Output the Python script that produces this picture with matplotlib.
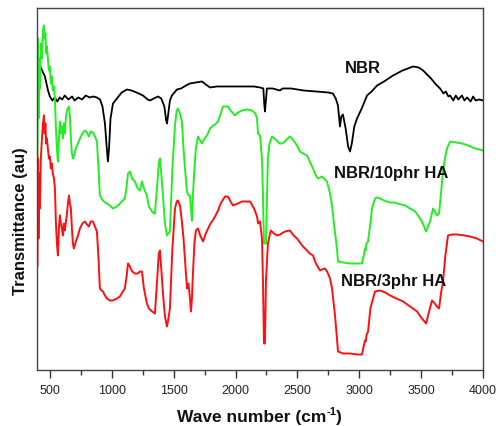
import matplotlib
matplotlib.use("Agg")
import matplotlib.pyplot as plt
from matplotlib.ticker import MultipleLocator

plt.rcParams['font.family'] = ['Liberation Sans', 'DejaVu Sans']

# ---- data (wavenumber cm^-1, transmittance in arbitrary units) ----
nbr_wn = [400, 405, 430, 460, 485, 500, 520, 540, 560, 580, 600, 620, 650, 680, 700, 730, 760,
          790, 820, 850, 880, 905, 925, 945, 960, 969, 978, 990, 1010, 1042, 1080, 1123, 1160,
          1200, 1252, 1290, 1309, 1340, 1374, 1400, 1425, 1440, 1446, 1452, 1470, 1486, 1527,
          1560, 1600, 1632, 1680, 1729, 1760, 1794, 1850, 1955, 2050, 2150, 2198, 2225, 2232,
          2238, 2245, 2254, 2300, 2330, 2359, 2380, 2450, 2550, 2650, 2750, 2787, 2810, 2828,
          2844, 2855, 2868, 2890, 2910, 2925, 2940, 2960, 2982, 3020, 3063, 3100, 3144, 3200,
          3273, 3350, 3435, 3480, 3516, 3580, 3620, 3653, 3680, 3700, 3720, 3734, 3760, 3780,
          3800, 3830, 3850, 3871, 3900, 3920, 3940, 3970, 4000]
nbr_t = [290, 310, 302, 294, 280, 274, 270, 273, 269, 273, 271, 275, 271, 274, 270, 273, 271,
         275, 273, 274, 273, 271, 264, 247, 222, 209, 222, 252, 267, 272, 278, 281, 280,
         278, 275, 271, 270, 272, 274, 272, 264, 250, 247, 252, 270, 275, 281,
         282, 285, 287, 288, 289, 286, 283, 284, 284, 284, 284, 283, 282, 267,
         259, 269, 282, 282, 281, 280, 282, 282, 280, 279, 278, 277, 272, 265,
         244, 254, 256, 242, 224, 219, 227, 244, 252, 262, 275, 279, 285, 289,
         295, 300, 304, 303, 300, 292, 286, 282, 277, 279, 274, 275, 270, 275,
         271, 275, 270, 273, 269, 274, 270, 271, 270]

ha10_wn = [400, 404, 408, 413, 420, 427, 436, 444, 452, 458, 464, 470, 476, 484, 492, 500, 508,
           516, 524, 533, 541, 549, 557, 565, 573, 581, 589, 597, 605, 613, 621, 630, 638, 646,
           654, 662, 670, 678, 686, 694, 710, 727, 743, 763, 783, 800, 815, 830, 848, 864, 880,
           893, 904, 918, 929, 945, 961, 985, 1009, 1042, 1066, 1090, 1106, 1120, 1131, 1147,
           1165, 1187, 1210, 1228, 1244, 1260, 1284, 1300, 1325, 1340, 1349, 1365, 1380, 1389,
           1400, 1414, 1430, 1446, 1458, 1470, 1490, 1511, 1525, 1535, 1551, 1567, 1580, 1592,
           1608, 1620, 1632, 1640, 1648, 1652, 1656, 1668, 1680, 1697, 1715, 1729, 1750, 1770,
           1794, 1810, 1835, 1859, 1880, 1899, 1920, 1939, 1960, 1996, 2020, 2052, 2090, 2133,
           2160, 2174, 2182, 2198, 2214, 2222, 2230, 2246, 2254, 2262, 2275, 2295, 2315, 2335,
           2355, 2375, 2400, 2420, 2440, 2456, 2475, 2497, 2521, 2545, 2578, 2600, 2626, 2650,
           2667, 2683, 2699, 2715, 2739, 2764, 2780, 2800, 2820, 2828, 2870, 2925, 2982, 3022,
           3035, 3046, 3052, 3058, 3071, 3090, 3103, 3127, 3144, 3168, 3200, 3225, 3249, 3290,
           3306, 3340, 3370, 3410, 3451, 3480, 3507, 3530, 3540, 3556, 3572, 3596, 3610, 3628,
           3645, 3660, 3677, 3695, 3709, 3734, 3780, 3831, 3880, 3936, 3970, 4000]
ha10_t = [195, 332, 252, 312, 282, 327, 312, 340, 345, 332, 337, 317, 324, 312, 300, 304, 287,
          294, 280, 284, 272, 242, 222, 209, 232, 249, 237, 244, 232, 247, 237, 254, 260, 262,
          264, 254, 232, 217, 212, 214, 222, 227, 232, 237, 240, 238, 234, 239, 238, 234, 229,
          202, 175, 172, 170, 168, 167, 165, 162, 164, 167, 170, 172, 184, 197, 199,
          192, 189, 182, 180, 189, 182, 175, 164, 159, 157, 157, 182, 207, 212,
          197, 175, 147, 135, 137, 139, 202, 245, 260, 262, 257, 249, 222, 202,
          179, 175, 175, 162, 150, 157, 175, 202, 222, 234, 230, 227, 232, 235,
          242, 244, 246, 249, 257, 264, 264, 264, 260, 255, 258, 260, 261, 260,
          257, 252, 237, 235, 212, 175, 127, 127, 172, 212, 227, 234, 232, 230,
          227, 227, 229, 232, 234, 232, 229, 225, 219, 217, 215, 209, 202, 195,
          192, 193, 194, 192, 189, 177, 165, 142, 122, 109, 108, 107, 107, 107,
          114, 122, 120, 127, 129, 147, 162, 172, 173, 172, 170, 169, 168, 168,
          167, 166, 165, 162, 159, 154, 149, 142, 139, 144, 149, 162, 159, 155,
          157, 177, 199, 214, 222, 229, 228, 227, 225, 222, 221, 220]

ha3_wn = [400, 404, 408, 413, 419, 427, 436, 444, 452, 458, 464, 470, 476, 484, 492, 500, 508,
          516, 524, 533, 541, 549, 557, 565, 573, 581, 589, 597, 605, 613, 621, 630, 638, 646,
          654, 662, 670, 678, 686, 694, 710, 727, 743, 763, 783, 800, 815, 830, 848, 864, 880,
          893, 904, 918, 929, 945, 961, 985, 1009, 1042, 1066, 1090, 1106, 1120, 1131, 1147,
          1165, 1187, 1210, 1228, 1244, 1260, 1284, 1300, 1325, 1349, 1365, 1380, 1389, 1400,
          1414, 1430, 1446, 1458, 1470, 1490, 1511, 1525, 1535, 1551, 1567, 1580, 1592, 1608,
          1620, 1632, 1640, 1648, 1656, 1668, 1680, 1697, 1715, 1737, 1760, 1794, 1810, 1835,
          1859, 1880, 1915, 1939, 1960, 1980, 2020, 2052, 2090, 2117, 2150, 2174, 2182, 2198,
          2214, 2222, 2230, 2238, 2246, 2262, 2285, 2310, 2335, 2360, 2400, 2440, 2470, 2497,
          2521, 2545, 2578, 2600, 2626, 2650, 2683, 2699, 2723, 2740, 2764, 2780, 2804, 2820,
          2828, 2870, 2925, 2982, 3022, 3035, 3046, 3052, 3058, 3071, 3090, 3127, 3168, 3210,
          3249, 3300, 3354, 3410, 3467, 3507, 3540, 3560, 3588, 3610, 3628, 3645, 3660, 3677,
          3695, 3717, 3750, 3790, 3850, 3895, 3950, 4000]
ha3_t = [105, 212, 132, 197, 162, 212, 232, 247, 255, 237, 247, 227, 232, 222, 212, 214, 202,
         207, 197, 192, 182, 147, 127, 115, 142, 155, 147, 142, 135, 147, 140, 149, 157, 167,
         175, 167, 162, 142, 127, 122, 129, 135, 142, 147, 149, 146, 144, 149, 149, 144, 139,
         112, 82, 80, 79, 75, 72, 70, 70, 72, 74, 79, 82, 94, 107, 104,
         99, 97, 97, 99, 99, 82, 67, 62, 59, 57, 87, 117, 120, 102,
         77, 54, 44, 52, 62, 122, 162, 169, 170, 165, 149, 132, 110, 82,
         87, 72, 59, 72, 97, 127, 140, 142, 135, 129, 137, 146, 149, 154,
         160, 167, 174, 174, 169, 165, 167, 169, 169, 169, 162, 154, 147, 149,
         132, 89, 27, 27, 89, 127, 140, 137, 135, 136, 139, 140, 135, 132,
         128, 124, 120, 117, 115, 107, 100, 101, 102, 99, 92, 82, 55, 32,
         19, 17, 17, 16, 16, 24, 30, 29, 35, 39, 62, 79, 80, 78,
         75, 72, 69, 64, 59, 52, 47, 57, 70, 67, 64, 62, 77, 89,
         114, 135, 136, 136, 135, 134, 132, 129]

x_ticks = [500, 1000, 1500, 2000, 2500, 3000, 3500, 4000]
labels = ["NBR", "NBR/10phr HA", "NBR/3phr HA"]
label_pos = [(3030, 303), (3257, 198), (3281, 90)]

# ---- figure ----
fig = plt.figure(figsize=(4.98, 4.27), dpi=100)
ax = fig.add_axes([0.0753, 0.130, 0.8946, 0.8478])

ax.plot(nbr_wn, nbr_t, color='black', lw=1.3)
ax.plot(ha10_wn, ha10_t, color='#22ee22', lw=1.4)
ax.plot(ha3_wn, ha3_t, color='#ff1010', lw=1.4)

for txt, (xx, yy) in zip(labels, label_pos):
    ax.text(xx, yy, txt, ha='center', va='center', fontsize=12, fontweight='bold', color='#111111')

ax.set_xlim(400, 4000)
ax.set_ylim(0, 362)
ax.set_xticks(x_ticks)
ax.set_xticklabels([str(v) for v in x_ticks])
ax.xaxis.set_minor_locator(MultipleLocator(250))
ax.set_yticks([])
ax.tick_params(axis='x', which='major', direction='out', length=6, width=1, pad=3.5,
               labelsize=9, colors='#333333', labelcolor='#222222', top=False)
ax.tick_params(axis='x', which='minor', direction='out', length=3.5, width=1, colors='#333333', top=False)
for s in ax.spines.values():
    s.set_color('#444444')
    s.set_linewidth(1.0)

# x label assembled from pieces: "Wave number (cm" + superscript "-1" + ")"
renderer = fig.canvas.get_renderer()
W, H = fig.bbox.width, fig.bbox.height
base_y = 422  # baseline in pixels from top
parts = [("Wave number (cm", 12.5, 0), ("-1", 8, 7), (")", 12.5, 0)]
objs = []
total = 0
for s, fs, dy in parts:
    t = fig.text(0, 0, s, fontsize=fs, fontweight='bold', color='#111111', va='baseline', ha='left')
    w = t.get_window_extent(renderer).width
    objs.append((t, w, dy))
    total += w
x0 = 259.5 - total / 2
for t, w, dy in objs:
    t.set_position((x0 / W, 1 - (base_y - dy) / H))
    x0 += w

fig.text(20 / 498, 1 - 221 / 427, "Transmittance (au)", ha='center', va='center', rotation=90,
         fontsize=12, fontweight='bold', color='#111111')

fig.savefig("out.png", dpi=100)
